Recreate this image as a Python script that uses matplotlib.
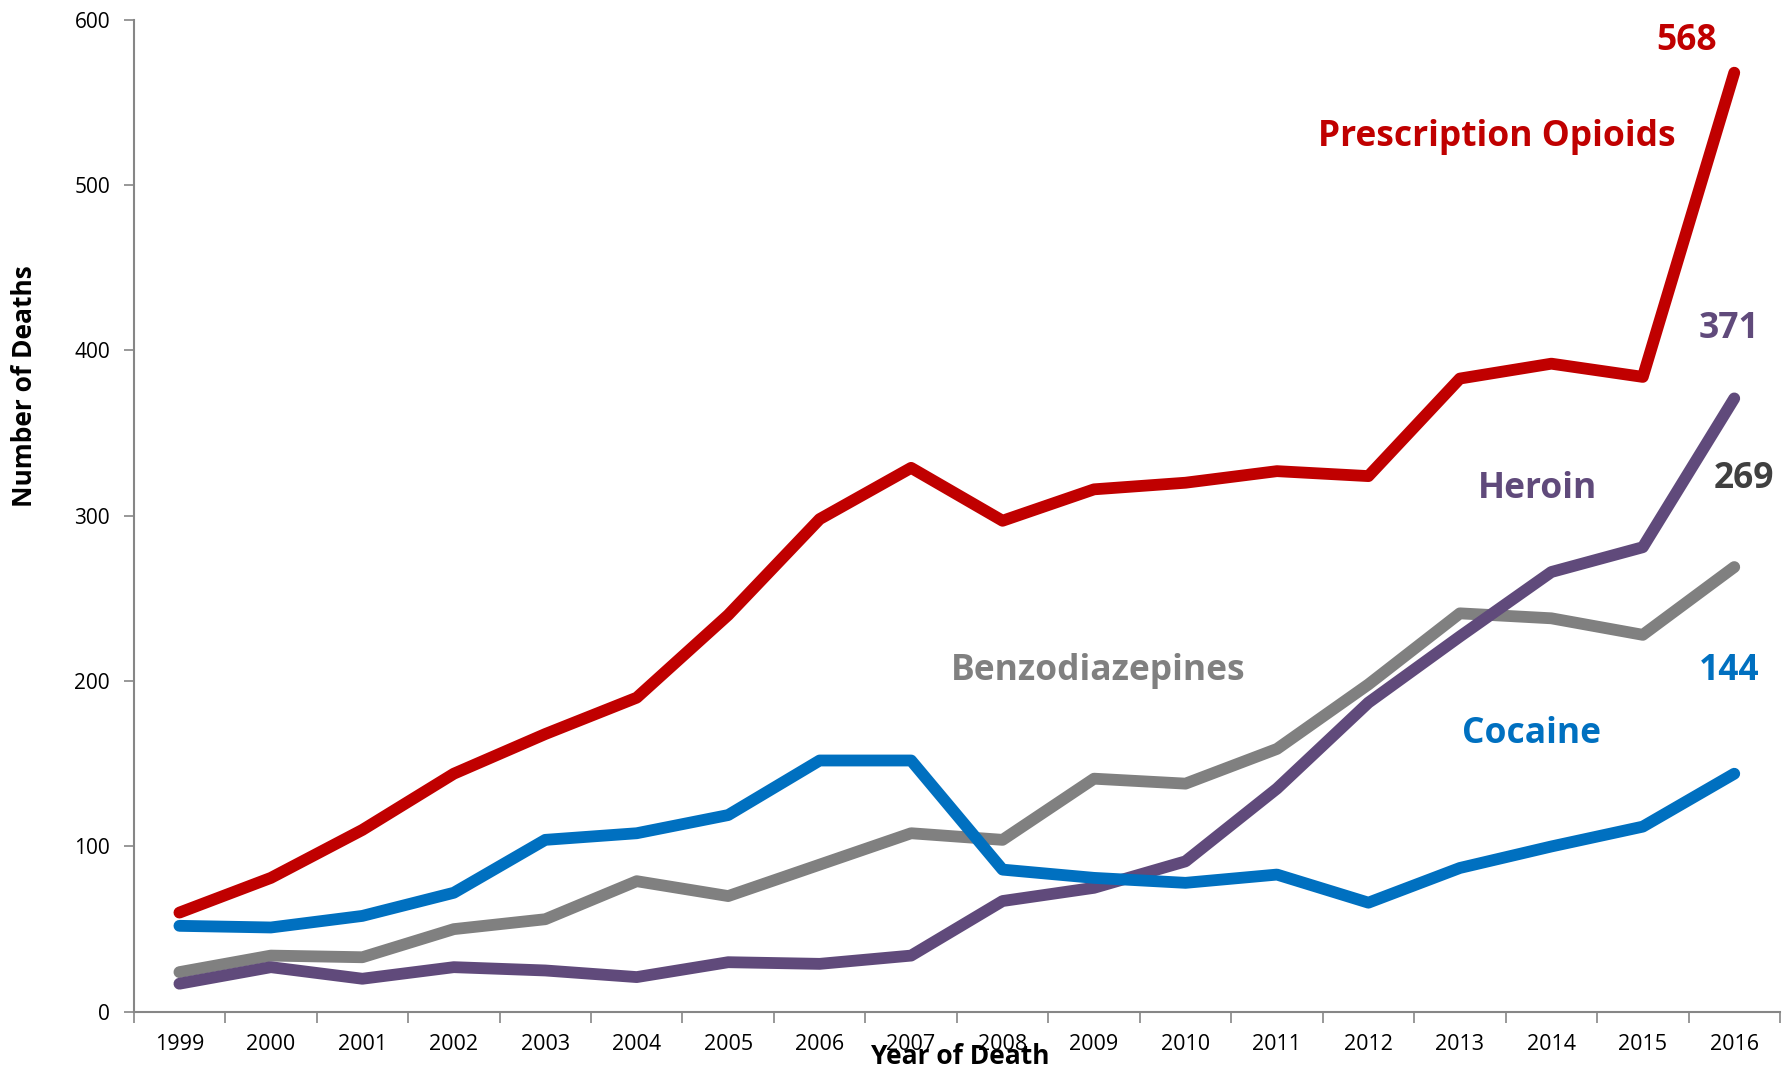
import matplotlib
matplotlib.use("Agg")
import matplotlib.pyplot as plt

years = ["1999", "2000", "2001", "2002", "2003", "2004", "2005", "2006", "2007",
         "2008", "2009", "2010", "2011", "2012", "2013", "2014", "2015", "2016"]

prescription_opioids = [60, 81, 110, 144, 168, 190, 240, 298, 329, 297, 316, 320,
                        327, 324, 383, 392, 384, 568]
cocaine = [52, 51, 58, 72, 104, 108, 119, 152, 152, 86, 81, 78, 83, 66, 87, 100, 112, 144]
benzodiazepines = [24, 34, 33, 50, 56, 79, 70, 89, 108, 104, 141, 138, 159, 198, 241,
                   238, 228, 269]
heroin = [17, 27, 20, 27, 25, 21, 30, 29, 34, 67, 75, 91, 135, 187, 227, 266, 281, 371]

RED = "#C00000"
BLUE = "#0070C0"
GRAY = "#808080"
PURPLE = "#604A7B"
DARK = "#404040"

plt.rcParams['font.family'] = ['Open Sans', 'DejaVu Sans']

fig = plt.figure(figsize=(17.92, 10.69), dpi=100)
ax = fig.add_axes([0.0746, 0.0535, 0.9187, 0.928])

x = list(range(len(years)))
lw = 8.5
ax.plot(x, benzodiazepines, color=GRAY, lw=lw, solid_capstyle='round', solid_joinstyle='round')
ax.plot(x, heroin, color=PURPLE, lw=lw, solid_capstyle='round', solid_joinstyle='round')
ax.plot(x, cocaine, color=BLUE, lw=lw, solid_capstyle='round', solid_joinstyle='round')
ax.plot(x, prescription_opioids, color=RED, lw=lw, solid_capstyle='round', solid_joinstyle='round')

ax.set_xlim(-0.5, len(years) - 0.5)
ax.set_ylim(0, 600)
ax.set_yticks(range(0, 601, 100))

ax.set_xticks(x)
ax.set_xticklabels(years)
ax.set_xticks([i - 0.5 for i in range(len(years) + 1)], minor=True)
ax.tick_params(axis='x', which='major', length=0, pad=16, labelsize=15.5)
ax.tick_params(axis='x', which='minor', length=8, width=1.2, color='#868686', direction='out')
ax.tick_params(axis='y', length=7, width=1.2, color='#868686', pad=10, labelsize=15)

for s in ['top', 'right']:
    ax.spines[s].set_visible(False)
for s in ['left', 'bottom']:
    ax.spines[s].set_color('#868686')
    ax.spines[s].set_linewidth(1.5)

fs = 25.5
ax.text(16.48, 587, "568", color=RED, fontsize=fs, fontweight='bold', ha='center', va='center')
ax.text(14.40, 529, "Prescription Opioids", color=RED, fontsize=fs, fontweight='bold', ha='center', va='center')
ax.text(16.94, 413, "371", color=PURPLE, fontsize=fs, fontweight='bold', ha='center', va='center')
ax.text(14.85, 316, "Heroin", color=PURPLE, fontsize=fs, fontweight='bold', ha='center', va='center')
ax.text(17.11, 322, "269", color=DARK, fontsize=fs, fontweight='bold', ha='center', va='center')
ax.text(10.04, 206, "Benzodiazepines", color=GRAY, fontsize=fs, fontweight='bold', ha='center', va='center')
ax.text(16.94, 206, "144", color=BLUE, fontsize=fs, fontweight='bold', ha='center', va='center')
ax.text(14.78, 168, "Cocaine", color=BLUE, fontsize=fs, fontweight='bold', ha='center', va='center')

fig.text(960 / 1792, 1 - 1056 / 1069, "Year of Death", fontsize=19, fontweight='bold',
         ha='center', va='center')
fig.text(25 / 1792, 1 - 386 / 1069, "Number of Deaths", fontsize=19, fontweight='bold',
         ha='center', va='center', rotation=90)

fig.savefig("out.png", dpi=100)
